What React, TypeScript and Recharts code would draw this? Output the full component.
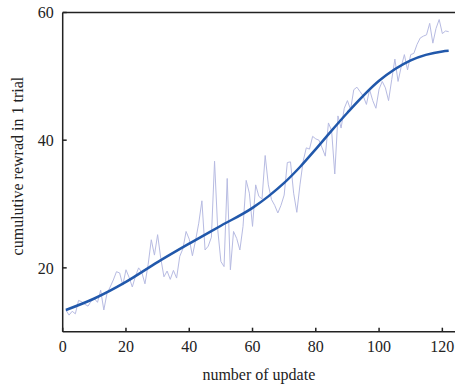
import { LineChart, Line, XAxis, YAxis, Label } from "recharts";

// raw cumulative reward per update
const rawRewards = [
  13.4, 12.6, 13.2, 12.8, 14.9, 14.7, 14.3, 14.0, 14.8, 15.2,
  14.6, 16.5, 13.4, 16.0, 17.0, 18.1, 19.4, 19.2, 17.3, 19.7,
  18.5, 17.0, 18.7, 20.0, 19.3, 17.5, 20.5, 24.4, 22.0, 25.2,
  21.5, 18.6, 19.5, 18.2, 19.6, 18.4, 21.8, 23.0, 25.7, 24.5,
  21.9, 24.3, 27.0, 30.5, 22.8, 23.4, 24.8, 36.7, 26.0, 21.0,
  20.2, 34.0, 19.7, 25.7, 24.6, 22.8, 26.5, 33.7, 31.7, 26.5,
  33.0, 31.2, 30.8, 37.6, 33.0, 30.7, 29.8, 28.6, 29.8, 31.4,
  36.5, 36.6, 31.7, 28.7, 33.0, 36.7, 38.8, 38.6, 40.6, 40.2,
  40.0, 38.8, 37.5, 42.7, 41.5, 34.7, 43.8, 41.9, 45.0, 46.2,
  44.8, 47.9, 48.3, 47.6, 46.9, 45.6, 47.9, 46.2, 45.0, 48.0,
  49.2, 48.2, 46.2, 49.5, 52.7, 49.2, 51.5, 53.4, 51.0, 53.4,
  53.6, 55.0, 56.0, 56.3, 56.5, 58.3, 55.2, 57.5, 58.9, 56.7,
  57.1, 57.0,
];
const rawUpdates = rawRewards.map((_, i) => i + 1);

// fitted trend (thick line)
const trendUpdates = [1, 10, 20, 30, 40, 50, 60, 65, 70, 75, 80, 85, 90, 100, 110, 120, 122];
const trendRewards = [13.4, 15.2, 17.8, 20.9, 23.8, 26.6, 29.4, 31.2, 33.3, 35.8, 38.6, 41.5, 44.3, 49.3, 52.5, 53.9, 54.0];

const xTicks = [0, 20, 40, 60, 80, 100, 120];
const yTicks = [20, 40, 60];

const rawData = rawUpdates.map((x, i) => ({ x, y: rawRewards[i] }));
const trendData = trendUpdates.map((x, i) => ({ x, y: trendRewards[i] }));

const FONT = "Liberation Serif";
const AXIS = "#222";

export default function App() {
  return (
    <div style={{ position: "absolute", left: 0, top: 0, fontFamily: FONT }}>
      <style>{`.recharts-text { font-family: "Liberation Serif", serif !important; }`}</style>
      <LineChart
        width={455}
        height={385}
        margin={{ top: 11.5, right: 0, bottom: 0, left: 0 }}
      >
        <XAxis
          xAxisId="top"
          orientation="top"
          dataKey="x"
          type="number"
          domain={[0, 124]}
          ticks={xTicks}
          height={1}
          tick={false}
          tickSize={-4}
          stroke={AXIS}
          strokeWidth={1.5}
        />
        <XAxis
          dataKey="x"
          type="number"
          domain={[0, 124]}
          ticks={xTicks}
          height={53.3}
          tickSize={-4}
          tickMargin={13}
          stroke={AXIS}
          strokeWidth={1.5}
          tick={{ fill: AXIS, fontSize: 16, fontFamily: FONT }}
        >
          <Label
            value="number of update"
            position="insideBottom"
            offset={5}
            style={{ fill: AXIS, fontSize: 16, fontFamily: FONT }}
          />
        </XAxis>
        <YAxis
          type="number"
          domain={[10, 60]}
          ticks={yTicks}
          width={62.7}
          tickSize={-4}
          tickMargin={13}
          stroke={AXIS}
          strokeWidth={1.5}
          tick={{ fill: AXIS, fontSize: 16, fontFamily: FONT }}
        >
          <Label
            value="cumulutive rewrad in 1 trial"
            angle={-90}
            position="insideLeft"
            offset={17}
            dy={-6}
            style={{ textAnchor: "middle", fill: AXIS, fontSize: 16, fontFamily: FONT }}
          />
        </YAxis>
        <Line
          data={rawData}
          dataKey="y"
          type="linear"
          stroke="#b7bbe2"
          strokeWidth={1}
          dot={false}
          isAnimationActive={false}
        />
        <Line
          data={trendData}
          dataKey="y"
          type="monotone"
          stroke="#2158ab"
          strokeWidth={2.5}
          dot={false}
          isAnimationActive={false}
        />
      </LineChart>
    </div>
  );
}
